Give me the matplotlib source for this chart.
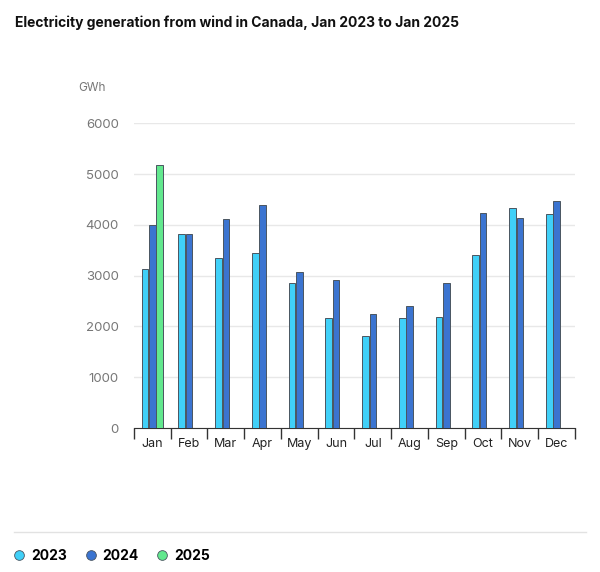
import numpy as np
import matplotlib.pyplot as plt
from matplotlib.lines import Line2D

plt.rcParams['font.family'] = ['Inter', 'DejaVu Sans']

months = ["Jan", "Feb", "Mar", "Apr", "May", "Jun",
          "Jul", "Aug", "Sep", "Oct", "Nov", "Dec"]
gwh_2023 = [3140, 3820, 3350, 3440, 2860, 2170, 1820, 2170, 2190, 3410, 4340, 4220]
gwh_2024 = [3990, 3820, 4120, 4400, 3080, 2920, 2240, 2400, 2860, 4240, 4140, 4470]
gwh_2025 = [5170] + [np.nan] * 11

series = [("2023", gwh_2023, "#40d0f8"),
          ("2024", gwh_2024, "#3b74d0"),
          ("2025", gwh_2025, "#62e88e")]

fig = plt.figure(figsize=(6, 5.72), dpi=100)
ax = fig.add_axes([0.2233, 0.2517, 0.735, 0.5327])

x = np.arange(len(months))
step, width = 0.2, 0.18
for i, (label, vals, color) in enumerate(series):
    ax.bar(x + (i - 1) * step, vals, width=width, color=color,
           edgecolor="#4a5560", linewidth=0.7, zorder=3, label=label)

ax.set_xlim(-0.5, len(months) - 0.5)
ax.set_ylim(0, 6000)
ax.set_yticks(np.arange(0, 6001, 1000))
ax.grid(axis="y", color="#e8e8e8", linewidth=1, zorder=0)
ax.set_xticks(x)
ax.set_xticklabels(months)
ax.set_xticks(np.arange(-0.5, len(months)), minor=True)
ax.tick_params(axis="x", which="major", length=0, pad=7, labelsize=9, labelcolor="#222222")
ax.tick_params(axis="x", which="minor", length=8, width=1, color="#333333")
ax.tick_params(axis="y", length=0, pad=11, labelsize=9.5, labelcolor="#777777")
for side in ("top", "right", "left"):
    ax.spines[side].set_visible(False)
ax.spines["bottom"].set_color("#333333")

fig.text(15 / 600, 1 - 22.5 / 572, "Electricity generation from wind in Canada, Jan 2023 to Jan 2025",
         fontsize=10, fontweight="bold", color="#111111", va="center", ha="left")
fig.text(78 / 600, 1 - 88 / 572, "GWh", fontsize=8.5, color="#777777", va="center", ha="left")

fig.add_artist(Line2D([14 / 600, 586 / 600], [1 - 532 / 572] * 2,
                      color="#e2e2e2", linewidth=1, transform=fig.transFigure))

handles = [Line2D([], [], marker="o", linestyle="none", markersize=7,
                  markerfacecolor=c, markeredgecolor="#4a5560", markeredgewidth=0.6)
           for _, _, c in series]
fig.legend(handles, [s[0] for s in series], loc="center left",
           bbox_to_anchor=(0.0, 1 - 556 / 572), ncol=3, frameon=False,
           handletextpad=0.35, columnspacing=1.2, handlelength=1.0,
           prop={"weight": "bold", "size": 10})

fig.savefig("out.png", dpi=100)
